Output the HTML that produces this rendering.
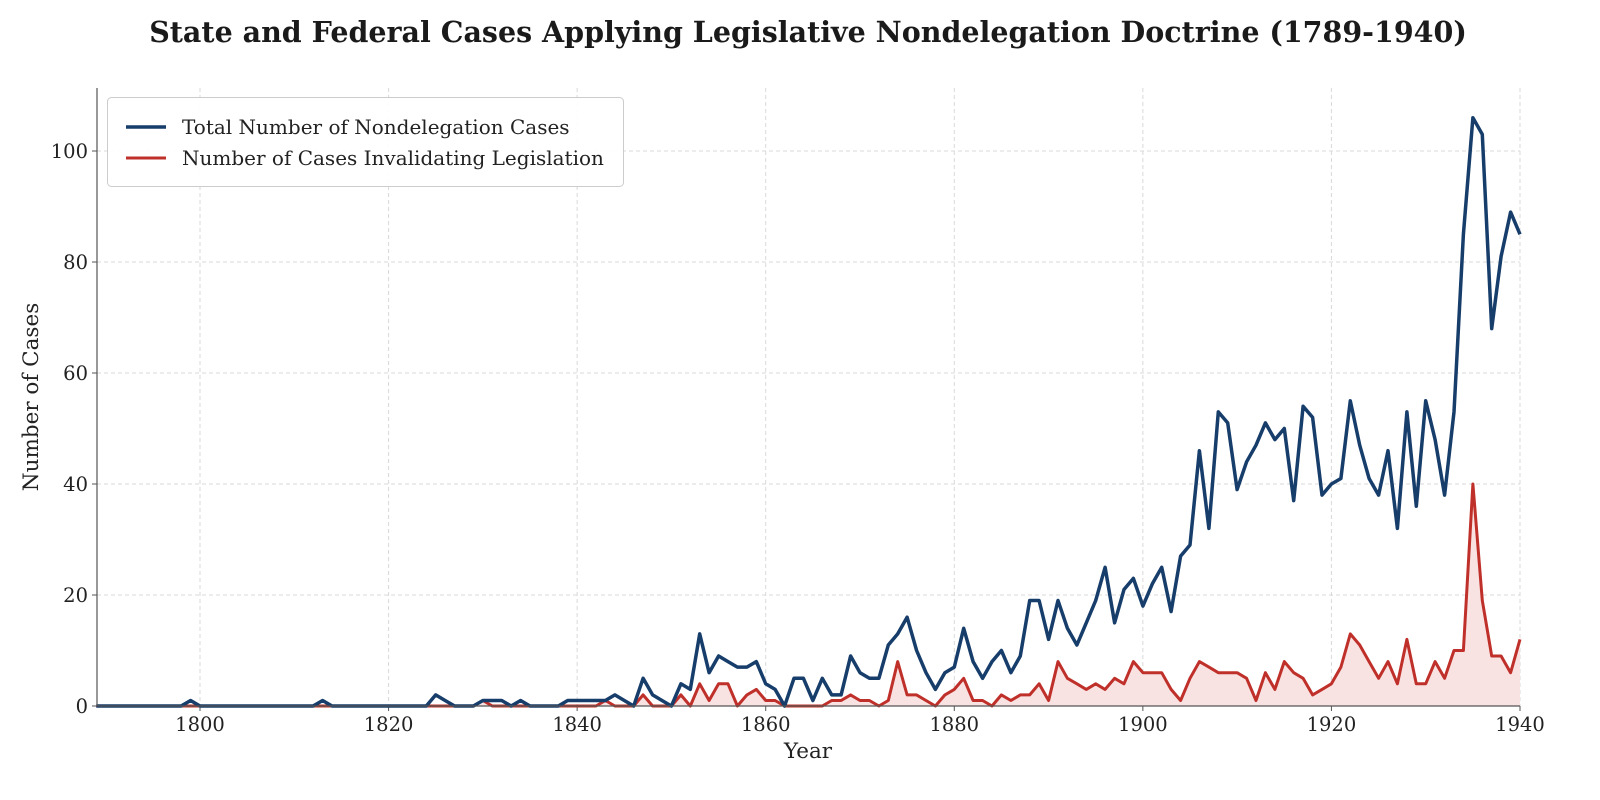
<!DOCTYPE html>
<html><head><meta charset="utf-8"><style>
body{margin:0;background:#fff}
svg{display:block;font-family:"DejaVu Serif","Liberation Serif",serif}
</style></head><body>
<svg id="s" width="1600" height="800" xmlns="http://www.w3.org/2000/svg">
<text x="808" y="42" text-anchor="middle" font-size="28.5" font-weight="bold" fill="#1a1a1a">State and Federal Cases Applying Legislative Nondelegation Doctrine (1789-1940)</text>
<g id="grid" stroke="#d9d9d9" stroke-width="1" stroke-dasharray="4,3"></g>
<g id="ticks" font-size="19.5" fill="#222"></g>
<path id="fill" fill="#f9e3e2" stroke="none"/>
<polyline id="red" fill="none" stroke="#c0302a" stroke-width="3" stroke-linejoin="round"/>
<polyline id="blue" fill="none" stroke="#173d6b" stroke-width="3.5" stroke-linejoin="round"/>
<line x1="97" y1="88" x2="97" y2="706" stroke="#555" stroke-width="1.2"/>
<line x1="97" y1="706" x2="1520" y2="706" stroke="#555" stroke-width="1.2"/>
<rect x="107.5" y="97.5" width="516" height="89" rx="4" fill="#fff" fill-opacity="0.9" stroke="#ccc"/>
<line x1="126" y1="127" x2="166" y2="127" stroke="#173d6b" stroke-width="3.5"/>
<line x1="126" y1="158" x2="166" y2="158" stroke="#c0302a" stroke-width="3"/>
<text x="182" y="134" font-size="20" fill="#222">Total Number of Nondelegation Cases</text>
<text x="182" y="165" font-size="20" fill="#222">Number of Cases Invalidating Legislation</text>
<text x="808" y="758" text-anchor="middle" font-size="21.5" fill="#222">Year</text>
<text transform="translate(38,397) rotate(-90)" text-anchor="middle" font-size="21.5" fill="#222">Number of Cases</text>
</svg>
<script>
var X=function(y){return 200+(y-1800)*9.4286},Y=function(v){return 706-v*5.55};
var g=document.getElementById('grid'),t=document.getElementById('ticks'),h='',tt='';
for(var yr=1800;yr<=1940;yr+=20){var x=X(yr);h+='<line x1="'+x+'" y1="88" x2="'+x+'" y2="706"/>';tt+='<text x="'+x+'" y="731" text-anchor="middle">'+yr+'</text><line x1="'+x+'" y1="706" x2="'+x+'" y2="711" stroke="#555"/>';}
for(var v=0;v<=100;v+=20){var y=Y(v);h+='<line x1="97" y1="'+y+'" x2="1520" y2="'+y+'"/>';tt+='<text x="88" y="'+(y+7)+'" text-anchor="end">'+v+'</text><line x1="92" y1="'+y+'" x2="97" y2="'+y+'" stroke="#555"/>';}
g.innerHTML=h;t.innerHTML=tt;
var B={1799:1,1813:1,1825:2,1826:1,1830:1,1831:1,1832:1,1834:1,1839:1,1840:1,1841:1,1842:1,1843:1,1844:2,1845:1,1847:5,1848:2,1849:1,1851:4,1852:3,1853:13,1854:6,1855:9,1856:8,1857:7,1858:7,1859:8,1860:4,1861:3,1863:5,1864:5,1865:1,1866:5,1867:2,1868:2,1869:9,1870:6,1871:5,1872:5,1873:11,1874:13,1875:16,1876:10,1877:6,1878:3,1879:6,1880:7,1881:14,1882:8,1883:5,1884:8,1885:10,1886:6,1887:9,1888:19,1889:19,1890:12,1891:19,1892:14,1893:11,1894:15,1895:19,1896:25,1897:15,1898:21,1899:23,1900:18,1901:22,1902:25,1903:17,1904:27,1905:29,1906:46,1907:32,1908:53,1909:51,1910:39,1911:44,1912:47,1913:51,1914:48,1915:50,1916:37,1917:54,1918:52,1919:38,1920:40,1921:41,1922:55,1923:47,1924:41,1925:38,1926:46,1927:32,1928:53,1929:36,1930:55,1931:48,1932:38,1933:53,1934:85,1935:106,1936:103,1937:68,1938:81,1939:89,1940:85};
var R={1830:1,1843:1,1847:2,1851:2,1853:4,1854:1,1855:4,1856:4,1858:2,1859:3,1860:1,1861:1,1867:1,1868:1,1869:2,1870:1,1871:1,1873:1,1874:8,1875:2,1876:2,1877:1,1879:2,1880:3,1881:5,1882:1,1883:1,1885:2,1886:1,1887:2,1888:2,1889:4,1890:1,1891:8,1892:5,1893:4,1894:3,1895:4,1896:3,1897:5,1898:4,1899:8,1900:6,1901:6,1902:6,1903:3,1904:1,1905:5,1906:8,1907:7,1908:6,1909:6,1910:6,1911:5,1912:1,1913:6,1914:3,1915:8,1916:6,1917:5,1918:2,1919:3,1920:4,1921:7,1922:13,1923:11,1924:8,1925:5,1926:8,1927:4,1928:12,1929:4,1930:4,1931:8,1932:5,1933:10,1934:10,1935:40,1936:19,1937:9,1938:9,1939:6,1940:12};
var pb=[],pr=[];
for(var yr=1789;yr<=1940;yr++){pb.push(X(yr).toFixed(1)+','+Y(B[yr]||0).toFixed(1));pr.push(X(yr).toFixed(1)+','+Y(R[yr]||0).toFixed(1));}
document.getElementById('blue').setAttribute('points',pb.join(' '));
document.getElementById('red').setAttribute('points',pr.join(' '));
document.getElementById('fill').setAttribute('d','M'+X(1789)+',706 L'+pr.join(' L')+' L'+X(1940)+',706 Z');
</script>
</body></html>
